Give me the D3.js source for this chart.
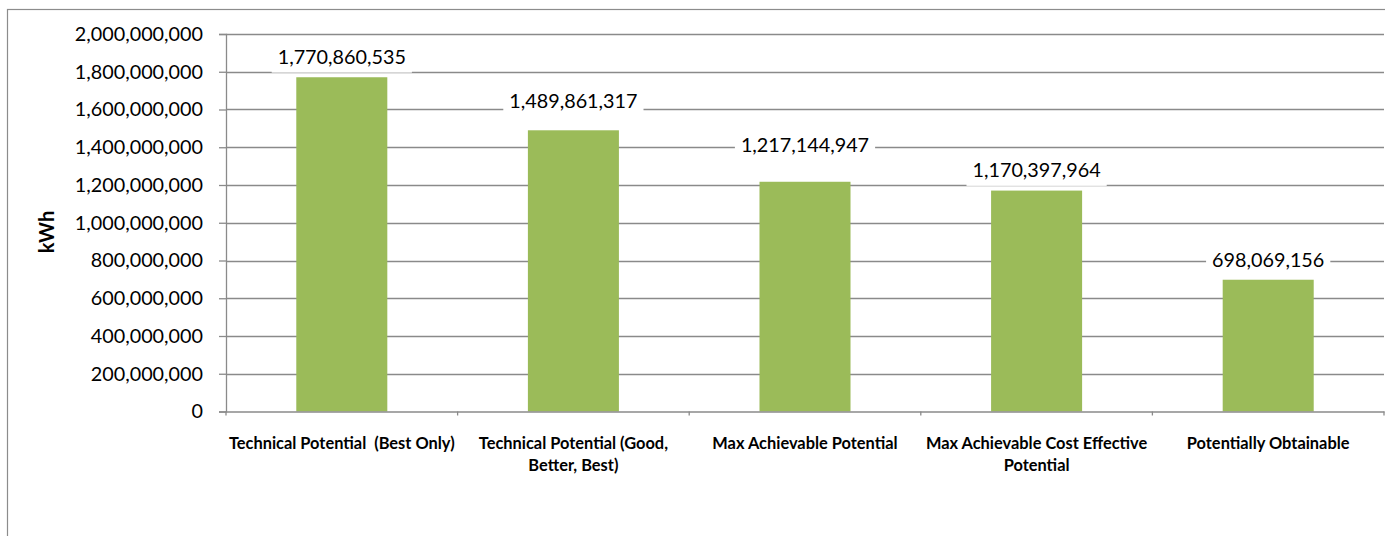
<!DOCTYPE html>
<html>
<head>
<meta charset="utf-8">
<script src="https://cdn.jsdelivr.net/npm/d3@7"></script>
<style>
  html, body { margin: 0; padding: 0; background: #fff; }
  svg { display: block; }
  text { font-family: Lato, "Open Sans", sans-serif; fill: #000; }
</style>
</head>
<body>
<svg id="chart" width="1385" height="536"></svg>
<script>
const categories = [
  "Technical Potential  (Best Only)",
  "Technical Potential (Good, Better, Best)",
  "Max Achievable Potential",
  "Max Achievable Cost Effective Potential",
  "Potentially Obtainable"
];
const values = [1770860535, 1489861317, 1217144947, 1170397964, 698069156];
const yTicks = [0, 200000000, 400000000, 600000000, 800000000, 1000000000,
                1200000000, 1400000000, 1600000000, 1800000000, 2000000000];
const yTitle = "kWh";

// layout: distance (px) from bar top to the centre of each data label (labels were hand-placed)
const labelLift = [20.6, 29.1, 36.3, 20.7, 20.2];

const W = 1385, H = 536;
const plot = { left: 226, right: 1384, top: 34, bottom: 411.5 };
const gridColor = "#8a8a8a";
const barColor = "#9bbb59";
const fmt = d3.format(",");
const numFont = "19.8px";
const catFont = "16.4px";

const svg = d3.select("#chart");
svg.append("rect").attr("x", 0).attr("y", 0).attr("width", W).attr("height", H).attr("fill", "#fff");
// chart area border (extends beyond the window on right and bottom)
svg.append("rect").attr("x", 7.5).attr("y", 9.5).attr("width", 1500).attr("height", 700)
  .attr("fill", "none").attr("stroke", "#8c8c8c").attr("stroke-width", 1.2);

const x = d3.scaleBand().domain(categories).range([plot.left, plot.right]).padding(0);
const y = d3.scaleLinear().domain([0, 2000000000]).range([plot.bottom, plot.top]);

// gridlines
svg.append("g").selectAll("line").data(yTicks.filter(d => d > 0)).join("line")
  .attr("x1", plot.left).attr("x2", plot.right)
  .attr("y1", d => Math.round(y(d)) + 0.5).attr("y2", d => Math.round(y(d)) + 0.5)
  .attr("stroke", gridColor).attr("stroke-width", 1.3);

// y axis
const yAxis = d3.axisLeft(y).tickValues(yTicks).tickFormat(fmt).tickSize(7).tickPadding(16);
const gy = svg.append("g").attr("transform", `translate(${plot.left},0)`).call(yAxis);
gy.select(".domain").attr("stroke", gridColor).attr("stroke-width", 1.3);
gy.selectAll(".tick line").attr("stroke", gridColor).attr("stroke-width", 1.3);
gy.selectAll(".tick text").style("font-family", "Lato, sans-serif").style("font-size", numFont).attr("fill", "#000");

// bars
const barW = x.step() * 0.393;
svg.append("g").selectAll("rect").data(values).join("rect")
  .attr("x", (d, i) => x(categories[i]) + x.bandwidth() / 2 - barW / 2)
  .attr("width", barW)
  .attr("y", d => y(d))
  .attr("height", d => y(0) - y(d))
  .attr("fill", barColor);

// x axis
const xAxis = d3.axisBottom(x).tickSize(0).tickFormat("");
const gx = svg.append("g").attr("transform", `translate(0,${plot.bottom})`).call(xAxis);
gx.select(".domain").attr("stroke", gridColor).attr("stroke-width", 1.3);
gx.selectAll(".tick").remove();
// category boundary ticks
const edges = categories.map(c => x(c)).concat([plot.right]);
svg.append("g").selectAll("line").data(edges).join("line")
  .attr("x1", d => d).attr("x2", d => d)
  .attr("y1", plot.bottom).attr("y2", plot.bottom + 4)
  .attr("stroke", gridColor).attr("stroke-width", 1.3);

// category labels with wrapping
const catG = svg.append("g");
categories.forEach((c, i) => {
  const cx = x(c) + x.bandwidth() / 2;
  const t = catG.append("text")
    .attr("text-anchor", "middle")
    .attr("xml:space", "preserve")
    .style("font-size", catFont).style("font-weight", "700");
  const words = c.split(" ");
  let lines = [], cur = "";
  const probe = catG.append("text").style("font-size", catFont).style("font-weight", "700").attr("xml:space", "preserve");
  words.forEach(w => {
    const test = cur === "" ? w : cur + " " + w;
    probe.text(test);
    if (probe.node().getComputedTextLength() > x.step() - 2 && cur !== "") {
      lines.push(cur); cur = w;
    } else cur = test;
  });
  lines.push(cur);
  probe.remove();
  lines.forEach((ln, k) => {
    t.append("tspan").attr("x", cx).attr("y", 449 + k * 22).text(ln);
  });
});

// data labels with white boxes
const lblG = svg.append("g");
values.forEach((v, i) => {
  const cx = x(categories[i]) + x.bandwidth() / 2;
  const cy = y(v) - labelLift[i];
  const g = lblG.append("g");
  const rect = g.append("rect").attr("fill", "#fff");
  const t = g.append("text").attr("x", cx).attr("y", cy + 7)
    .attr("text-anchor", "middle").style("font-size", numFont).text(fmt(v));
  const w = t.node().getComputedTextLength();
  rect.attr("x", cx - w / 2 - 6).attr("width", w + 12)
    .attr("y", cy - 16).attr("height", 32);
});

// y title
svg.append("text")
  .attr("transform", "translate(54,232) rotate(-90)")
  .attr("text-anchor", "middle")
  .style("font-size", "20px").style("font-weight", "700")
  .text(yTitle);
</script>
</body>
</html>
